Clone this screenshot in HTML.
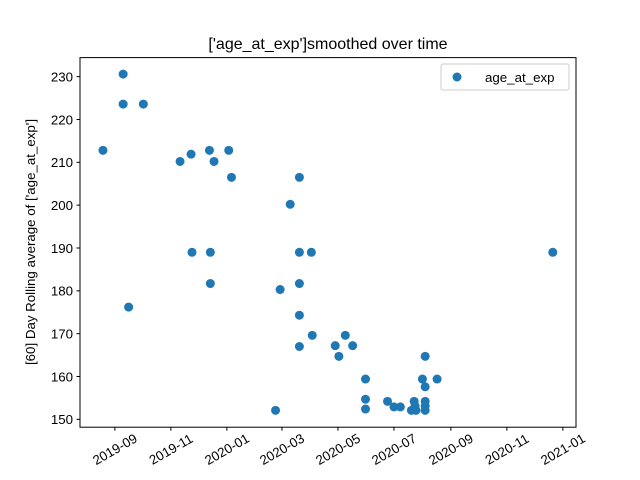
<!DOCTYPE html>
<html><head><meta charset="utf-8"><style>
html,body{margin:0;padding:0;background:#fff;}
svg{display:block;font-family:"Liberation Sans","DejaVu Sans",sans-serif;}
</style></head><body>
<svg id="chart" width="640" height="480" viewBox="0 0 640 480">
<rect width="640" height="480" fill="#fff"/>
<text x="328" y="49" font-size="16" text-anchor="middle" fill="#000">['age_at_exp']smoothed over time</text>
<text transform="translate(35,242) rotate(-90)" font-size="13.3" text-anchor="middle" fill="#000">[60] Day Rolling average of ['age_at_exp']</text>
<g id="ticks"></g>
<g id="points"></g>
<rect x="80" y="57.6" width="496" height="369.6" fill="none" stroke="#000" stroke-width="1"/>
<g>
<rect x="441" y="64" width="128" height="26" rx="2" fill="#fff" fill-opacity="0.8" stroke="#ccc"/>
<circle cx="457" cy="77" r="4.5" fill="#1f77b4"/>
<text x="485" y="82" font-size="13.3" fill="#000">age_at_exp</text>
</g>
</svg>
<script>
const dates = ["2019-08-19","2019-09-10","2019-09-10","2019-10-02","2019-09-16","2019-11-11","2019-11-23","2019-12-13","2019-12-18","2020-01-03","2020-01-06","2019-11-24","2019-12-14","2019-12-14","2020-03-10","2020-03-20","2020-03-20","2020-03-20","2020-03-20","2020-03-20","2020-04-02","2020-04-03","2020-02-28","2020-02-23","2020-05-31","2020-05-31","2020-05-31","2020-04-28","2020-05-02","2020-05-09","2020-05-17","2020-06-24","2020-07-01","2020-07-08","2020-07-23","2020-07-20","2020-07-25","2020-07-24","2020-08-04","2020-08-04","2020-08-04","2020-08-04","2020-08-04","2020-08-01","2020-08-17","2020-12-21"];
const values = [212.8,230.6,223.6,223.6,176.2,210.2,211.9,212.8,210.2,212.8,206.5,189,189,181.7,200.2,206.5,189,181.7,174.3,167,189,169.6,180.3,152.1,159.4,154.7,152.4,167.2,164.7,169.6,167.2,154.2,152.9,152.9,154.2,152.1,152.1,153.1,164.7,157.6,154.2,153.1,152.1,159.4,159.4,189];
const xTickLabels = ["2019-09","2019-11","2020-01","2020-03","2020-05","2020-07","2020-09","2020-11","2021-01"];
const yTickLabels = [150,160,170,180,190,200,210,220,230];

const DAY = 86400000;
const x0 = Date.parse("2019-07-25"), x1 = Date.parse("2019-07-25") + 540.3*DAY;
const L=80,R=576,T=57.6,B=427.2;
const yMin=148.16, yMax=234.45;
function xs(d){ const t=Date.parse(d); return L + (t-x0)/(x1-x0)*(R-L); }
function ys(v){ return B - (v-yMin)/(yMax-yMin)*(B-T); }
const NS="http://www.w3.org/2000/svg";
const tg=document.getElementById('ticks'), pg=document.getElementById('points');
yTickLabels.forEach(v=>{
  const y=ys(v);
  const l=document.createElementNS(NS,'line');
  l.setAttribute('x1',L-3.5);l.setAttribute('x2',L);l.setAttribute('y1',y);l.setAttribute('y2',y);l.setAttribute('stroke','#000');
  
  
  tg.appendChild(l);
  const t=document.createElementNS(NS,'text');
  t.setAttribute('x',L-7);t.setAttribute('y',y+4.8);t.setAttribute('font-size','13.3');t.setAttribute('text-anchor','end');
  t.textContent=v;
  
  
  tg.appendChild(t);
});
xTickLabels.forEach(s=>{
  const x=xs(s+"-01");
  const l=document.createElementNS(NS,'line');
  l.setAttribute('x1',x);l.setAttribute('x2',x);l.setAttribute('y1',B);l.setAttribute('y2',B+3.5);l.setAttribute('stroke','#000');
  
  
  tg.appendChild(l);
  const t=document.createElementNS(NS,'text');
  t.setAttribute('transform','translate('+x+','+(B+22)+') rotate(-30)');
  t.setAttribute('font-size','13.3');t.setAttribute('text-anchor','middle');t.setAttribute('dy','0.35em');
  t.textContent=s;
  
  
  tg.appendChild(t);
});
dates.forEach((d,i)=>{
  const c=document.createElementNS(NS,'circle');
  c.setAttribute('cx',xs(d));c.setAttribute('cy',ys(values[i]));c.setAttribute('r','4.5');c.setAttribute('fill','#1f77b4');
  
  
  pg.appendChild(c);
});
</script>
</body></html>
